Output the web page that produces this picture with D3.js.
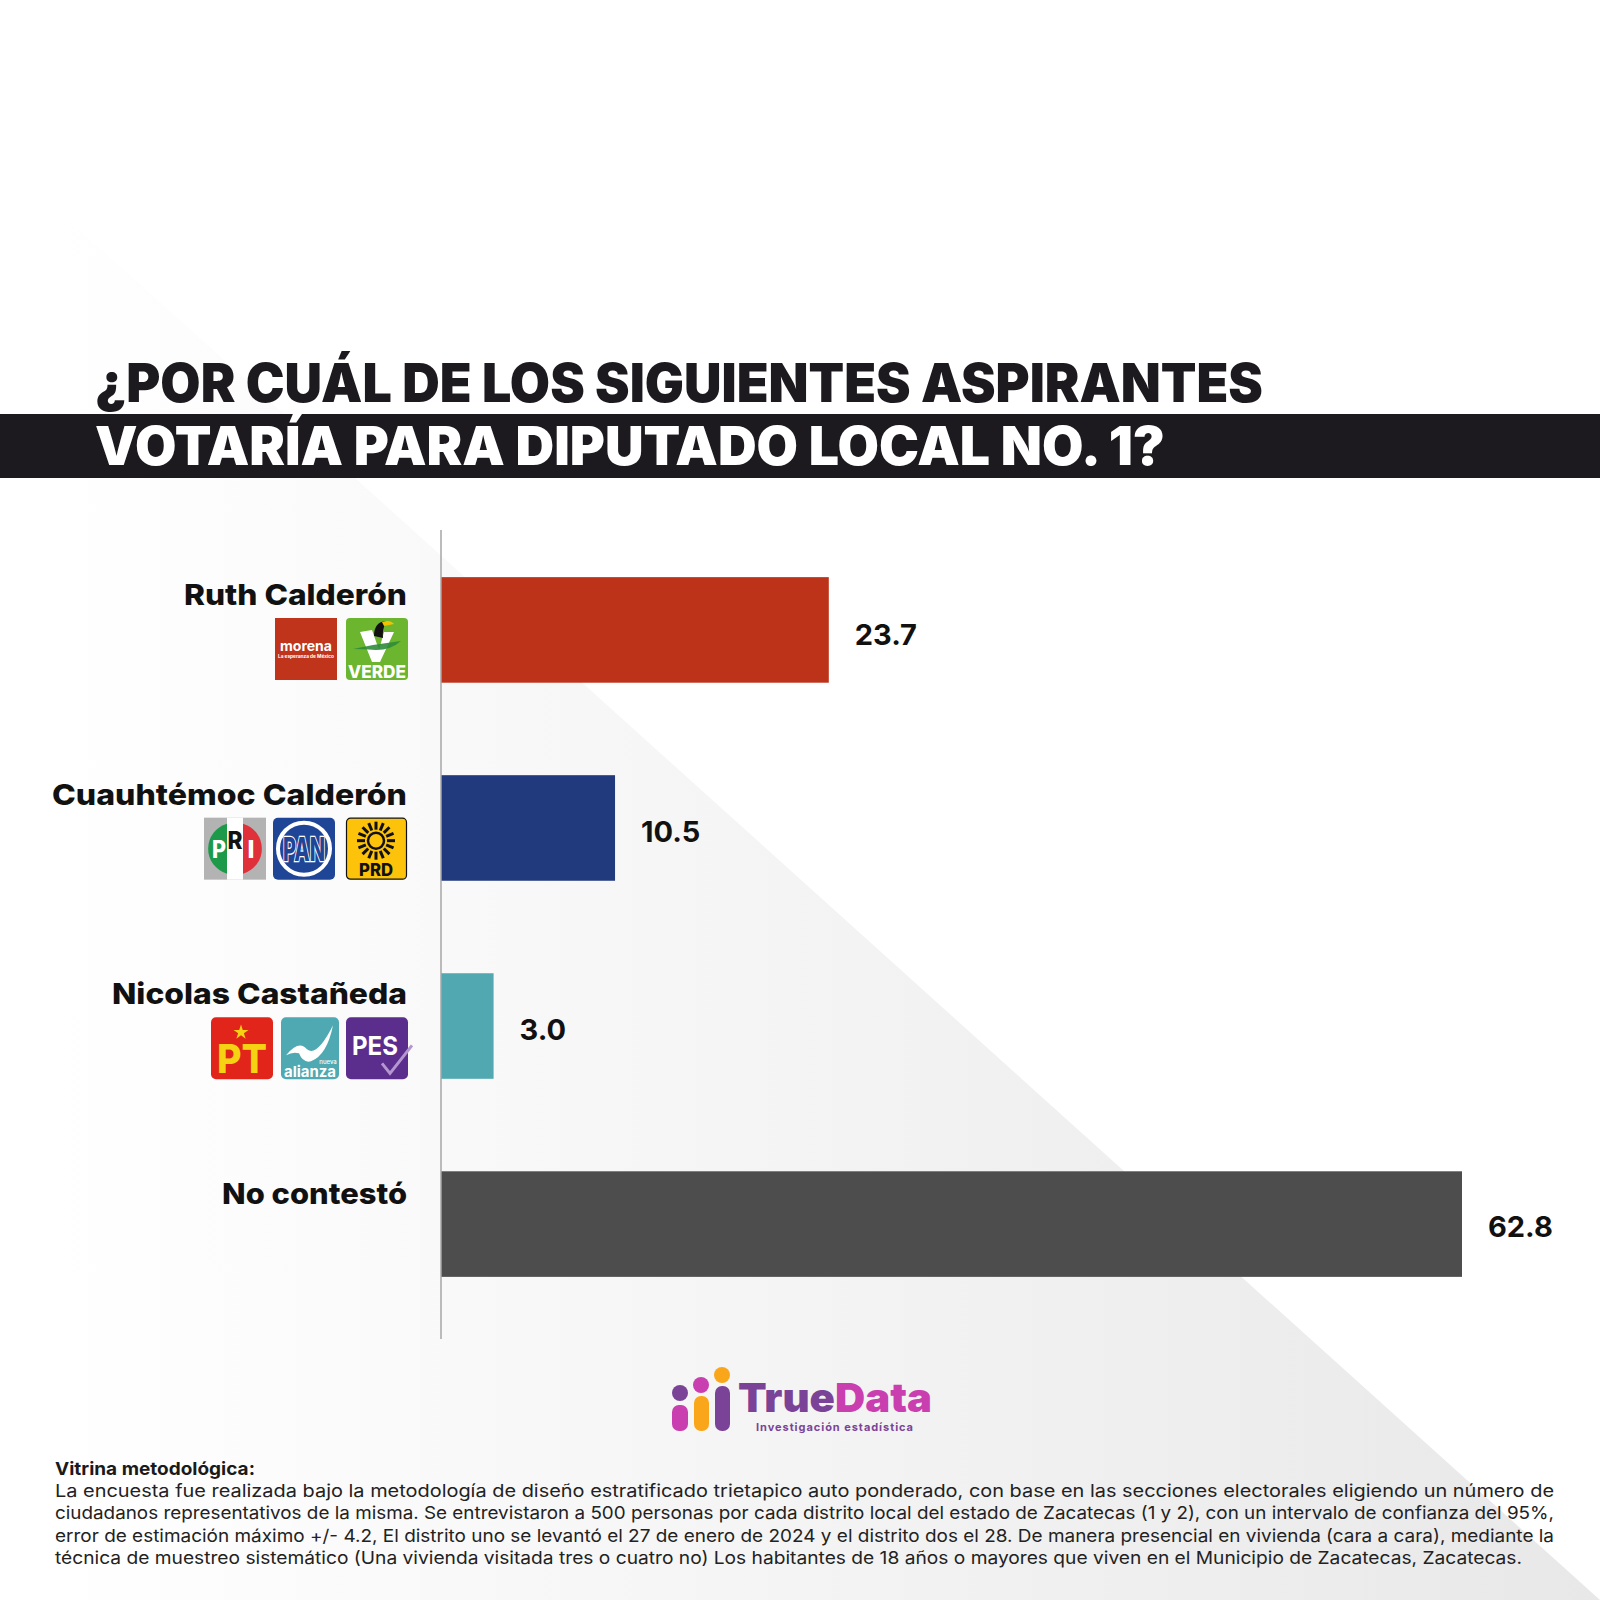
<!DOCTYPE html>
<html lang="es">
<head>
<meta charset="utf-8">
<title>TrueData</title>
<script src="https://cdn.jsdelivr.net/npm/d3@7/dist/d3.min.js"></script>
<style>
	html, body { margin: 0; padding: 0; background: #fff; }
	svg { display: block; }
	text { font-family: Inter, 'Open Sans', sans-serif; }
</style>
</head>
<body>
<svg id="chart" width="1600" height="1600" viewBox="0 0 1600 1600"></svg>
<script>
var candidates = ['Ruth Calderón', 'Cuauhtémoc Calderón', 'Nicolas Castañeda', 'No contestó'];
var values = [23.7, 10.5, 3.0, 62.8];
var colors = ['#bd3319', '#21397d', '#51a8b1', '#4d4d4d'];
var parties = [['morena', 'verde'], ['pri', 'pan', 'prd'], ['pt', 'alianza', 'pes'], []];
var logoLeft = [[275, 346], [204, 273, 346], [211, 281, 346], []];
var labelStart = [184, 52, 112, 222];
var title = ['¿POR CUÁL DE LOS SIGUIENTES ASPIRANTES', 'VOTARÍA PARA DIPUTADO LOCAL NO. 1?'];
var noteTitle = 'Vitrina metodológica:';
var notes = [
	'La encuesta fue realizada bajo la metodología de diseño estratificado trietapico auto ponderado, con base en las secciones electorales eligiendo un número de',
	'ciudadanos representativos de la misma. Se entrevistaron a 500 personas por cada distrito local del estado de Zacatecas (1 y 2), con un intervalo de confianza del 95%,',
	'error de estimación máximo +/- 4.2, El distrito uno se levantó el 27 de enero de 2024 y el distrito dos el 28. De manera presencial en vivienda (cara a cara), mediante la',
	'técnica de muestreo sistemático (Una vivienda visitada tres o cuatro no) Los habitantes de 18 años o mayores que viven en el Municipio de Zacatecas, Zacatecas.'
];

var svg = d3.select('#chart');
var defs = svg.append('defs');

// background
var grad = defs.append('linearGradient').attr('id', 'bg').attr('x1', 0).attr('x2', 1).attr('y1', 0).attr('y2', 0);
grad.append('stop').attr('offset', '3%').attr('stop-color', '#fff');
grad.append('stop').attr('offset', '100%').attr('stop-color', '#e8e8e8');
svg.append('rect').attr('width', 1600).attr('height', 1600).attr('fill', '#fff');
svg.append('path').attr('d', 'M0,158 L1600,1600 L0,1600 Z').attr('fill', 'url(#bg)');

// title
svg.append('rect').attr('x', 0).attr('y', 414).attr('width', 1600).attr('height', 64).attr('fill', '#1d1a1f');
function fit(sel, w) {
	return sel.attr('textLength', w).attr('lengthAdjust', 'spacingAndGlyphs');
}
fit(svg.append('text').attr('x', 95).attr('y', 402).attr('font-size', 53).attr('font-weight', 900).attr('fill', '#1d1a1f').text(title[0]), 1168);
fit(svg.append('text').attr('x', 95).attr('y', 465).attr('font-size', 53).attr('font-weight', 900).attr('fill', '#fff').text(title[1]), 1070);

// chart
var x = d3.scaleLinear().domain([0, 62.8]).range([445, 1462]);
var y = d3.scaleBand().domain(candidates).range([530, 1324]).paddingInner(0.467).paddingOuter(0.238);
var nameY = d3.scalePoint().domain(candidates).range([605, 1204]);
var valueY = d3.scalePoint().domain(candidates).range([645, 1237]);
var base = 441;

svg.selectAll('.bar').data(values).enter().append('rect')
	.attr('class', 'bar')
	.attr('x', base)
	.attr('y', function(d, i) { return y(candidates[i]); })
	.attr('width', function(d) { return x(d) - base; })
	.attr('height', y.bandwidth())
	.attr('fill', function(d, i) { return colors[i]; });

svg.append('line').attr('x1', base).attr('x2', base).attr('y1', 530).attr('y2', 1339).attr('stroke', '#a6a6a6').attr('stroke-width', 1.5);

svg.selectAll('.val').data(values).enter().append('text')
	.attr('class', 'val')
	.attr('x', function(d) { return x(d) + 26; })
	.attr('y', function(d, i) { return valueY(candidates[i]); })
	.attr('font-size', 29)
	.attr('font-weight', 700)
	.attr('fill', '#111')
	.text(function(d) { return d.toFixed(1); });

svg.selectAll('.name').data(candidates).enter().append('text')
	.attr('class', 'name')
	.attr('x', function(d, i) { return labelStart[i]; })
	.attr('y', function(d) { return nameY(d); })
	.attr('font-size', 29)
	.attr('font-weight', 800)
	.attr('fill', '#111')
	.attr('textLength', function(d, i) { return 407 - labelStart[i]; })
	.attr('lengthAdjust', 'spacingAndGlyphs')
	.text(function(d) { return d; });

// logos, each one drawn in a 62x62 box
function txt(g, s, px, py, size, fill, weight, w) {
	var t = g.append('text').attr('x', px).attr('y', py).attr('font-size', size).attr('fill', fill)
		.attr('font-weight', weight || 800).attr('text-anchor', 'middle').text(s);
	if (w) {
		t.attr('textLength', w).attr('lengthAdjust', 'spacingAndGlyphs');
	}
	return t;
}

function box(g, fill, r) {
	return g.append('rect').attr('width', 62).attr('height', 62).attr('rx', r || 0).attr('fill', fill);
}

var logos = {
	morena: function(g) {
		box(g, '#c0341b');
		txt(g, 'morena', 31, 33, 14, '#fff', 700, 52);
		txt(g, 'La esperanza de México', 31, 40, 4.5, '#fff', 700, 56);
	},
	verde: function(g) {
		box(g, '#6cb52f', 4);
		g.append('path').attr('d', 'M14,14 L26,12 L33,32 L38,14 L48,14 L34,44 L26,44 Z').attr('fill', '#fff');
		g.append('path').attr('d', 'M7,31 Q30,26 55,23 Q45,32 30,32 Q18,31 7,31 Z').attr('fill', '#2e8b3a').attr('opacity', 0.9);
		g.append('path').attr('d', 'M28,18 Q28,4 40,3 Q36,12 37,20 Z').attr('fill', '#111');
		g.append('path').attr('d', 'M36,4 Q44,1 48,6 L38,8 Z').attr('fill', '#f2c200');
		txt(g, 'VERDE', 31, 60, 18, '#fff', 800, 58);
	},
	pri: function(g) {
		box(g, '#b3b3b3');
		g.append('rect').attr('x', 23).attr('width', 16).attr('height', 62).attr('fill', '#fff');
		g.append('path').attr('d', 'M23,6 A26,26 0 0 0 23,56 Z').attr('fill', '#1c9a4a');
		g.append('path').attr('d', 'M39,6 A26,26 0 0 1 39,56 Z').attr('fill', '#e0303a');
		txt(g, 'P', 15, 40, 24, '#fff', 800, 14);
		txt(g, 'R', 31, 31, 24, '#111', 800, 15);
		txt(g, 'I', 47, 40, 24, '#fff', 800, 7);
	},
	pan: function(g) {
		box(g, '#1f4597', 5);
		g.append('circle').attr('cx', 31).attr('cy', 31).attr('r', 26).attr('fill', 'none').attr('stroke', '#fff').attr('stroke-width', 4);
		txt(g, 'PAN', 31, 43, 33, '#1f4597', 800, 42).attr('stroke', '#fff').attr('stroke-width', 2.5).attr('paint-order', 'stroke');
	},
	prd: function(g) {
		g.append('rect').attr('x', 0.5).attr('y', 0.5).attr('width', 60).attr('height', 61).attr('rx', 4).attr('fill', '#fdc30a').attr('stroke', '#111').attr('stroke-width', 1.2);
		var sun = g.append('g').attr('transform', 'translate(30,23)');
		sun.append('circle').attr('r', 8).attr('fill', 'none').attr('stroke', '#111').attr('stroke-width', 2.5);
		d3.range(16).forEach(function(i) {
			sun.append('rect').attr('x', -1.5).attr('y', -19).attr('width', 3).attr('height', 8).attr('fill', '#111')
				.attr('transform', 'rotate(' + (i * 22.5) + ')');
		});
		txt(g, 'PRD', 30, 58, 17, '#111', 800, 34);
	},
	pt: function(g) {
		box(g, '#e1251b', 5);
		g.append('path').attr('d', d3.symbol().type(d3.symbolStar).size(70)()).attr('transform', 'translate(30,15)').attr('fill', '#f6d312');
		txt(g, 'PT', 31, 56, 40, '#f6d312', 800, 50);
	},
	alianza: function(g) {
		box(g, '#4ea9b3', 5).attr('width', 58);
		g.append('path').attr('d', 'M5,38 Q18,22 26,32 Q36,40 52,8 Q46,38 30,44 Q22,46 18,36 Q12,34 5,38 Z').attr('fill', '#fff');
		txt(g, 'nueva', 47, 47, 6, '#fff', 500);
		txt(g, 'alianza', 29, 60, 15, '#fff', 700, 52);
	},
	pes: function(g) {
		box(g, '#5b2d8c', 5);
		txt(g, 'PES', 29, 38, 26, '#fff', 700, 46);
		g.append('path').attr('d', 'M36,46 L44,56 L66,28').attr('fill', 'none').attr('stroke', '#b497d0').attr('stroke-width', 3);
	}
};

parties.forEach(function(list, i) {
	list.forEach(function(name, j) {
		var g = svg.append('g').attr('transform', 'translate(' + logoLeft[i][j] + ',' + (nameY(candidates[i]) + 13) + ')');
		logos[name](g);
	});
});

// truedata logo
var purple = '#7b4397';
var magenta = '#c93fb0';
var orange = '#f9a61a';
var logo = svg.append('g');
[[672, 1405, 16, magenta, 680, 1393, purple], [694, 1396, 15, orange, 701, 1385, magenta], [715, 1386, 15, purple, 722, 1375, orange]].forEach(function(p) {
	logo.append('rect').attr('x', p[0]).attr('y', p[1]).attr('width', p[2]).attr('height', 1431 - p[1]).attr('rx', 7).attr('fill', p[3]);
	logo.append('circle').attr('cx', p[4]).attr('cy', p[5]).attr('r', 8).attr('fill', p[6]);
});
var brand = logo.append('text').attr('x', 738).attr('y', 1412).attr('font-size', 40).attr('font-weight', 900)
	.attr('textLength', 194).attr('lengthAdjust', 'spacingAndGlyphs');
brand.append('tspan').attr('fill', purple).text('True');
brand.append('tspan').attr('fill', magenta).text('Data');
logo.append('text').attr('x', 756).attr('y', 1431).attr('font-size', 11).attr('font-weight', 700).attr('fill', purple)
	.attr('textLength', 157).text('Investigación estadística');

// footer
fit(svg.append('text').attr('x', 55).attr('y', 1475).attr('font-size', 18).attr('font-weight', 700).attr('fill', '#1a1a1a').text(noteTitle), 200);
var noteY = d3.scaleLinear().domain([0, 3]).range([1497, 1564]);
var noteW = [1499, 1499, 1499, 1467];
svg.selectAll('.note').data(notes).enter().append('text')
	.attr('class', 'note')
	.attr('x', 55)
	.attr('y', function(d, i) { return noteY(i); })
	.attr('font-size', 17.5)
	.attr('fill', '#222')
	.attr('textLength', function(d, i) { return noteW[i]; })
	.attr('lengthAdjust', 'spacingAndGlyphs')
	.text(function(d) { return d; });
</script>
</body>
</html>
